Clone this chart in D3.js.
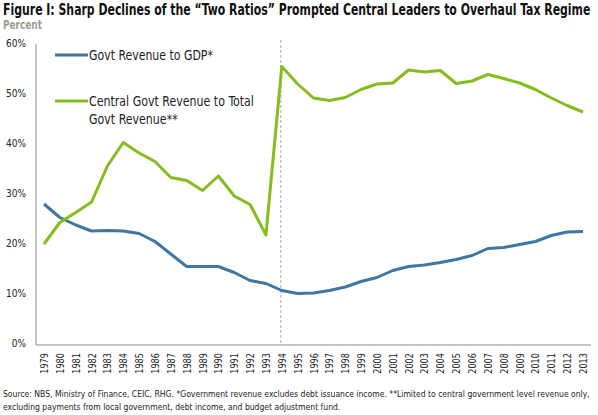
<!DOCTYPE html>
<html><head><meta charset="utf-8">
<script src="https://cdn.jsdelivr.net/npm/d3@7"></script>
<style>
body{margin:0;background:#fff;}
svg text{font-family:"Liberation Sans Narrow","DejaVu Sans Condensed","Roboto Condensed",sans-serif;}
</style></head>
<body><svg id="c" width="598" height="415"></svg>
<script>
const years = d3.range(1979, 2014);
const revenueToGDP = [28.2,25.5,24.0,22.8,22.9,22.8,22.3,20.7,18.2,15.7,15.7,15.7,14.5,12.9,12.3,10.9,10.3,10.4,10.9,11.6,12.7,13.5,14.9,15.7,16.0,16.5,17.1,17.9,19.3,19.5,20.1,20.7,21.9,22.6,22.7];
const centralShare = [20.2,24.5,26.5,28.6,35.8,40.5,38.4,36.7,33.5,32.9,30.9,33.8,29.8,28.1,22.0,55.7,52.2,49.4,48.9,49.5,51.1,52.2,52.4,55.0,54.6,54.9,52.3,52.8,54.1,53.3,52.4,51.1,49.4,47.9,46.6];
const yTicks = [0,10,20,30,40,50,60];
const reformYear = 1994;
const seriesNames = ["Govt Revenue to GDP*", "Central Govt Revenue to Total", "Govt Revenue**"];
const titleText = "Figure I: Sharp Declines of the \u201cTwo Ratios\u201d Prompted Central Leaders to Overhaul Tax Regime";
const subtitleText = "Percent";
const noteLines = ["Source: NBS, Ministry of Finance, CEIC, RHG. *Government revenue excludes debt issuance income. **Limited to central government level revenue only,",
  "excluding payments from local government, debt income, and budget adjustment fund."];

const svg = d3.select("#c");
const blue = "#3d77a2", green = "#84bd1c";
const x = d3.scaleLinear().domain([1979, 2013]).range([44, 583]);
const y = d3.scaleLinear().domain([0, 60]).range([345, 45]);

// place text with a horizontal squeeze so that it spans target width (condensed look)
function squeeze(sel, px, py, size, target, sxFixed) {
  sel.attr("x", 0).attr("y", 0).attr("font-size", size);
  let sx = sxFixed;
  if (sx === undefined) {
    const w = sel.node().getComputedTextLength();
    sx = Math.min(1, target / w);
  }
  sel.attr("transform", `translate(${px},${py}) scale(${sx.toFixed(4)},1)`);
  return sx;
}

squeeze(svg.append("text").attr("font-weight", "bold").attr("fill", "#111").text(titleText), 3, 15, 15, 588);
squeeze(svg.append("text").attr("font-weight", "bold").attr("fill", "#a19b8c").text(subtitleText), 3, 29, 12, 39);

// axes
svg.append("line").attr("x1", 36).attr("x2", 36).attr("y1", 44).attr("y2", y(0)).attr("stroke", "#888").attr("stroke-width", 1);
svg.append("line").attr("x1", 36).attr("x2", 591).attr("y1", y(0)).attr("y2", y(0)).attr("stroke", "#888").attr("stroke-width", 1);

const yAxis = d3.axisLeft(y).tickValues(yTicks).tickSize(0).tickFormat(d => d + "%");
const gy = svg.append("g").attr("transform", "translate(26,0)").call(yAxis);
gy.select(".domain").remove();
gy.selectAll("text").attr("font-size", 10).attr("fill", "#222").attr("x", 0).attr("dy", "0.1em")
  .style("font-family", '"Liberation Sans Narrow","DejaVu Sans Condensed",sans-serif');

const xAxis = d3.axisBottom(x).tickValues(years).tickSize(0).tickFormat(d => String(d));
const gx = svg.append("g").attr("transform", `translate(0,${y(0)})`).call(xAxis);
gx.select(".domain").remove();
gx.selectAll("text").attr("font-size", 10).attr("fill", "#222")
  .attr("transform", "rotate(-90) scale(0.9,1)").attr("x", -9).attr("y", 0).attr("dy", "0.35em")
  .attr("text-anchor", "end")
  .style("font-family", '"Liberation Sans Narrow","DejaVu Sans Condensed",sans-serif');

// reform dashed line
svg.append("line").attr("x1", x(reformYear) - 1).attr("x2", x(reformYear) - 1)
  .attr("y1", 40).attr("y2", y(0)).attr("stroke", "#aaa").attr("stroke-width", 1).attr("stroke-dasharray", "3,2");

const line = d3.line().x((d, i) => x(years[i])).y(d => y(d));
svg.append("path").datum(revenueToGDP).attr("d", line).attr("fill", "none")
  .attr("stroke", blue).attr("stroke-width", 3).attr("stroke-linejoin", "round");
svg.append("path").datum(centralShare).attr("d", line).attr("fill", "none")
  .attr("stroke", green).attr("stroke-width", 3).attr("stroke-linejoin", "round");

// legend
const lg = svg.append("g");
lg.append("line").attr("x1", 55).attr("x2", 88).attr("y1", 55).attr("y2", 55).attr("stroke", blue).attr("stroke-width", 3);
squeeze(lg.append("text").attr("fill", "#222").text(seriesNames[0]), 89, 60, 14, 124);
lg.append("line").attr("x1", 55).attr("x2", 88).attr("y1", 101).attr("y2", 101).attr("stroke", green).attr("stroke-width", 3);
const sx2 = squeeze(lg.append("text").attr("fill", "#222").text(seriesNames[1]), 89, 106, 14, 165);
squeeze(lg.append("text").attr("fill", "#222").text(seriesNames[2]), 89, 124, 14, 0, sx2);

// notes
const sxn = squeeze(svg.append("text").attr("fill", "#222").text(noteLines[0]), 3, 397, 9.5, 588);
squeeze(svg.append("text").attr("fill", "#222").text(noteLines[1]), 3, 410, 9.5, 0, sxn);
</script></body></html>
